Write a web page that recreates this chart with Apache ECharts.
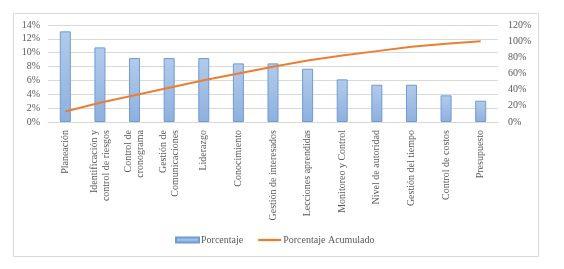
<!DOCTYPE html>
<html>
<head>
<meta charset="utf-8">
<script src="https://cdn.jsdelivr.net/npm/echarts@6/dist/echarts.min.js"></script>
<style>
  html, body { margin: 0; padding: 0; background: #fff; }
  #chart { width: 564px; height: 269px; }
</style>
</head>
<body>
<div id="chart"></div>
<script>
// categories and values
const categories = [
  'Planeación',
  'Identificación y\ncontrol de riesgos',
  'Control de\ncronograma',
  'Gestión de\nComunicaciones',
  'Liderazgo',
  'Conocimiento',
  'Gestión de interesados',
  'Lecciones aprendidas',
  'Monitoreo y Control',
  'Nivel de autoridad',
  'Gestión del tiempo',
  'Control de costos',
  'Presupuesto'
]
const porcentaje = [13.08, 10.77, 9.23, 9.23, 9.23, 8.46, 8.46, 7.69, 6.15, 5.38, 5.38, 3.85, 3.08]
const acumulado = [13.08, 23.85, 33.08, 42.31, 51.54, 60.0, 68.46, 76.15, 82.31, 87.69, 93.08, 96.92, 100.0]

const font = 'Liberation Serif'
const textColor = '#595959'

const chart = echarts.init(document.getElementById('chart'))
chart.setOption({
  animation: false,
  textStyle: { fontFamily: font },
  graphic: [{
    type: 'rect',
    shape: { x: 13.5, y: 13.5, width: 525, height: 243 },
    style: { fill: 'none', stroke: '#d9d9d9', lineWidth: 1 },
    silent: true
  }],
  grid: { left: 48, right: 66, top: 25, bottom: 147 },
  legend: {
    top: 235,
    left: 175,
    padding: 0,
    itemGap: 15,
    itemWidth: 23,
    itemHeight: 5,
    textStyle: { fontFamily: font, fontSize: 10, color: textColor, padding: [0, 0, 0, -3] },
    data: [
      { name: 'Porcentaje', icon: 'rect' },
      { name: 'Porcentaje Acumulado', icon: 'path://M0,0 L10,0 L10,1 L0,1 Z' }
    ]
  },
  xAxis: {
    type: 'category',
    data: categories,
    axisTick: { show: false },
    axisLine: { lineStyle: { color: '#d9d9d9' } },
    axisLabel: {
      interval: 0,
      rotate: 90,
      fontFamily: font,
      fontSize: 10,
      color: textColor,
      lineHeight: 12,
      margin: 8
    }
  },
  yAxis: [
    {
      type: 'value',
      min: 0,
      max: 14,
      interval: 2,
      axisLabel: { formatter: '{value}%', fontFamily: font, fontSize: 10, color: textColor, margin: 8 },
      splitLine: { lineStyle: { color: '#d9d9d9' } },
      axisLine: { show: false },
      axisTick: { show: false }
    },
    {
      type: 'value',
      min: 0,
      max: 120,
      interval: 20,
      axisLabel: { formatter: '{value}%', fontFamily: font, fontSize: 10, color: textColor, margin: 10 },
      splitLine: { show: false },
      axisLine: { show: false },
      axisTick: { show: false }
    }
  ],
  series: [
    {
      name: 'Porcentaje',
      type: 'bar',
      data: porcentaje,
      barWidth: 11,
      itemStyle: {
        color: new echarts.graphic.LinearGradient(0, 0, 0, 1, [
          { offset: 0, color: '#b2cbea' },
          { offset: 1, color: '#8eb0de' }
        ]),
        borderColor: '#6f9bd4',
        borderWidth: 1
      }
    },
    {
      name: 'Porcentaje Acumulado',
      type: 'line',
      yAxisIndex: 1,
      data: acumulado,
      symbol: 'none',
      smooth: false,
      lineStyle: { color: '#ed7d31', width: 2 },
      itemStyle: { color: '#ed7d31' }
    }
  ]
})
</script>
</body>
</html>
